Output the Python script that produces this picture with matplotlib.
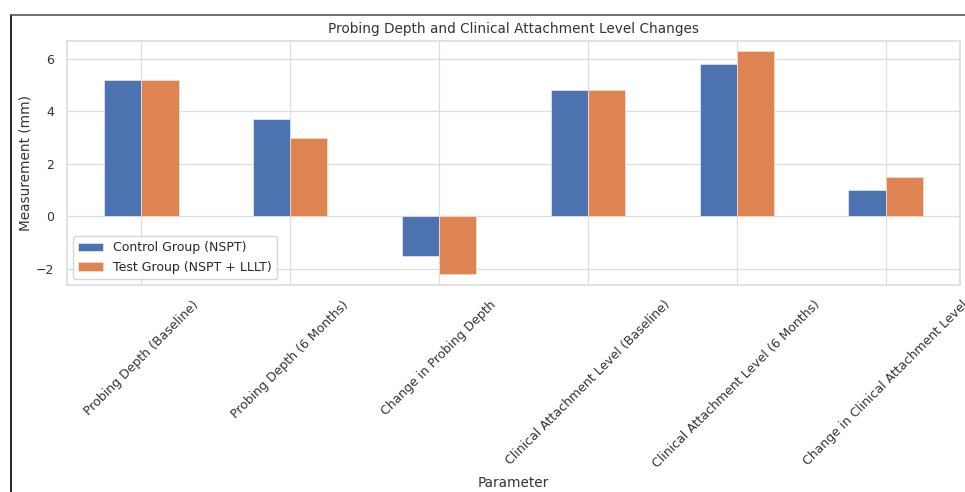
import matplotlib
matplotlib.use("Agg")
import matplotlib.pyplot as plt
import seaborn as sns
from matplotlib.lines import Line2D

parameters = [
    "Probing Depth (Baseline)",
    "Probing Depth (6 Months)",
    "Change in Probing Depth",
    "Clinical Attachment Level (Baseline)",
    "Clinical Attachment Level (6 Months)",
    "Change in Clinical Attachment Level",
]
control = [5.2, 3.7, -1.5, 4.8, 5.8, 1.0]
test = [5.2, 3.0, -2.2, 4.8, 6.3, 1.5]
series_names = ["Control Group (NSPT)", "Test Group (NSPT + LLLT)"]

sns.set_theme(style="whitegrid", palette="deep")
colors = sns.color_palette("deep")

fig = plt.figure(figsize=(9.65, 4.92), dpi=100)
ax = fig.add_axes([67 / 965, 1 - 285 / 492, (960 - 67) / 965, (285 - 41) / 492])

x = list(range(len(parameters)))
w = 0.25
ax.bar([i - w / 2 for i in x], control, width=w, color=colors[0],
       edgecolor="#dde4f0", linewidth=0.6, label=series_names[0])
ax.bar([i + w / 2 for i in x], test, width=w, color=colors[1],
       edgecolor="#f5dccb", linewidth=0.6, label=series_names[1])

ax.set_xlim(-0.5, len(parameters) - 0.5)
ax.set_ylim(-2.62, 6.68)
ax.set_yticks([-2, 0, 2, 4, 6])
ax.set_xticks(x)
# last label runs past the right edge, same as the cropped reference
ax.set_xticklabels(parameters, rotation=45, ha="center", fontsize=9, color="#333333")
ax.tick_params(axis="y", labelsize=9, labelcolor="#333333")
ax.grid(True, color="#dddddd", linewidth=0.9)
for s in ax.spines.values():
    s.set_color("#dddddd")

ax.set_title("Probing Depth and Clinical Attachment Level Changes", fontsize=9.8, color="#333333")
ax.set_xlabel("Parameter", fontsize=9.8, color="#333333")
ax.set_ylabel("Measurement (mm)", fontsize=9.8, color="#333333", labelpad=2)
ax.legend(loc="lower left", fontsize=9, frameon=True)

# screenshot frame
fig.add_artist(Line2D([10.5 / 965, 10.5 / 965], [0, 1 - 15 / 492], transform=fig.transFigure,
                      color="black", linewidth=1.2))
fig.add_artist(Line2D([10.5 / 965, 1], [1 - 15 / 492, 1 - 15 / 492], transform=fig.transFigure,
                      color="#555555", linewidth=1.2))

fig.savefig("out.png", dpi=100)
